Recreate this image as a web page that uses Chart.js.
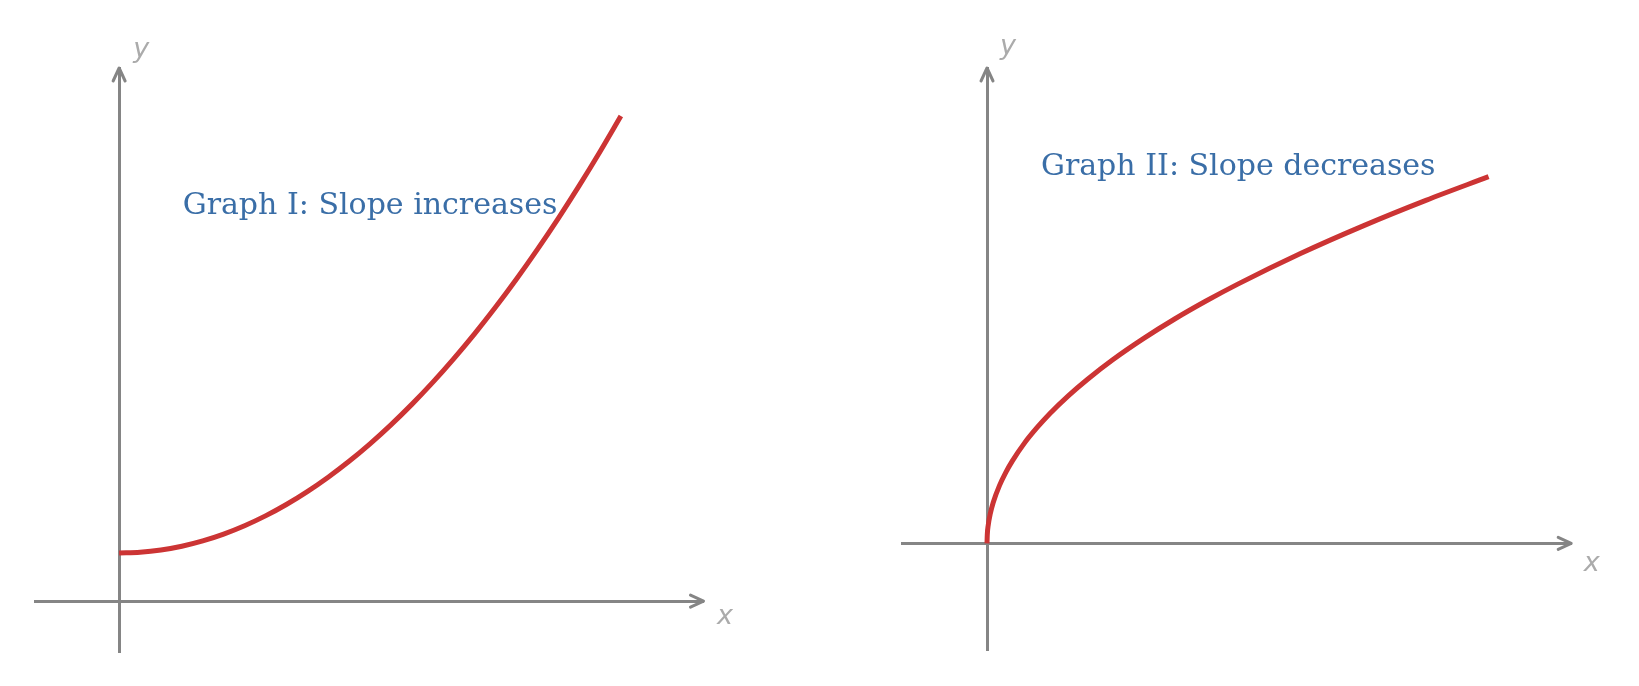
<!DOCTYPE html>
<html>
<head>
    <meta charset="utf-8">
    <title>Slope increases / decreases</title>
    <script src="https://cdn.jsdelivr.net/npm/chart.js@4/dist/chart.umd.min.js"></script>
    <style>
        body { margin: 0; background: #fff; }
        .panel { position: absolute; top: 0; height: 686px; }
        #left { left: 0; width: 820px; }
        #right { left: 820px; width: 819px; }
    </style>
</head>
<body>
    <div class="panel" id="left"><canvas id="chart1"></canvas></div>
    <div class="panel" id="right"><canvas id="chart2"></canvas></div>
    <script>
        // Graph I: slope increases
        const xs1 = [0, 0.125, 0.25, 0.375, 0.5, 0.625, 0.75, 0.875, 1, 1.125, 1.25, 1.375, 1.5,
                     1.625, 1.75, 1.875, 2, 2.125, 2.25, 2.375, 2.5, 2.625, 2.75, 2.875, 3];
        const ys1 = [1, 1.016, 1.063, 1.142, 1.253, 1.395, 1.569, 1.774, 2.011, 2.28, 2.58, 2.911, 3.275,
                     3.67, 4.096, 4.554, 5.044, 5.565, 6.118, 6.702, 7.319, 7.966, 8.646, 9.357, 10.1];
        // Graph II: slope decreases
        const xs2 = [0, 0.002, 0.01, 0.025, 0.05, 0.1, 0.15, 0.2, 0.3, 0.4, 0.5, 0.65, 0.8,
                     1, 1.25, 1.5, 1.75, 2, 2.5, 3, 3.5, 4];
        const ys2 = [0, 0.045, 0.1, 0.158, 0.224, 0.316, 0.387, 0.447, 0.548, 0.632, 0.707, 0.806, 0.894,
                     1, 1.118, 1.225, 1.323, 1.414, 1.581, 1.732, 1.871, 2];

        const titles = ['Graph I: Slope increases', 'Graph II: Slope decreases'];
        const axisNames = ['x', 'y'];

        const axisColor = '#858585';
        const labelColor = '#ababab';
        const curveColor = '#cc3434';
        const titleColor = '#3a6ea7';

        // arrows, axis names and panel title
        const decor = {
            id: 'decor',
            afterDraw(chart, args, opts) {
                const ctx = chart.ctx;
                const sx = chart.scales.x, sy = chart.scales.y;
                const ox = sx.getPixelForValue(0), oy = sy.getPixelForValue(0);
                const xEnd = sx.right, yEnd = sy.top;
                ctx.save();
                ctx.strokeStyle = axisColor;
                ctx.lineWidth = 3;
                ctx.lineCap = 'round';
                ctx.lineJoin = 'round';
                ctx.beginPath();
                ctx.moveTo(xEnd - 13, oy - 6); ctx.lineTo(xEnd, oy); ctx.lineTo(xEnd - 13, oy + 6);
                ctx.moveTo(ox - 6, yEnd + 13); ctx.lineTo(ox, yEnd); ctx.lineTo(ox + 6, yEnd + 13);
                ctx.stroke();

                ctx.fillStyle = labelColor;
                ctx.font = 'italic 27px "DejaVu Sans"';
                ctx.textBaseline = 'alphabetic';
                ctx.textAlign = 'left';
                ctx.fillText(axisNames[0], xEnd + opts.xLab[0], oy + opts.xLab[1]);
                ctx.fillText(axisNames[1], ox + opts.yLab[0], yEnd + opts.yLab[1]);

                ctx.fillStyle = titleColor;
                ctx.font = '30px "DejaVu Serif"';
                ctx.fillText(opts.title, sx.getPixelForValue(opts.titleAt[0]), sy.getPixelForValue(opts.titleAt[1]));
                ctx.restore();
            }
        };

        function makeChart(id, xs, ys, xr, yr, pad, decorOpts) {
            const axis = (min, max, pos) => ({
                type: 'linear', min: min, max: max, position: pos,
                grid: { display: false, drawTicks: false, tickLength: 0 },
                ticks: { display: false },
                border: { display: true, color: axisColor, width: 3 }
            });
            return new Chart(document.getElementById(id), {
                type: 'scatter',
                data: {
                    datasets: [{
                        data: xs.map((x, i) => ({ x: x, y: ys[i] })),
                        showLine: true,
                        borderColor: curveColor,
                        borderWidth: 5,
                        borderCapStyle: 'butt',
                        pointRadius: 0,
                        cubicInterpolationMode: 'monotone'
                    }]
                },
                options: {
                    responsive: true,
                    maintainAspectRatio: false,
                    animation: false,
                    layout: { padding: pad },
                    plugins: { legend: { display: false }, tooltip: { enabled: false }, decor: decorOpts },
                    scales: {
                        x: axis(xr[0], xr[1], { y: 0 }),
                        y: axis(yr[0], yr[1], { x: 0 })
                    }
                },
                plugins: [decor]
            });
        }

        makeChart('chart1', xs1, ys1, [-0.5, 3.494], [-1.06, 11.1],
            { left: 35.5, top: 68, right: 116.5, bottom: 34 },
            { title: titles[0], titleAt: [0.38, 8.06], xLab: [13.5, 23], yLab: [14, -11.5] });

        makeChart('chart2', xs2, ys2, [-0.678, 4.659], [-0.582, 2.593],
            { left: 82, top: 68, right: 67.8, bottom: 36 },
            { title: titles[1], titleAt: [0.43, 2.01], xLab: [12.5, 28], yLab: [13, -14.5] });
    </script>
</body>
</html>
